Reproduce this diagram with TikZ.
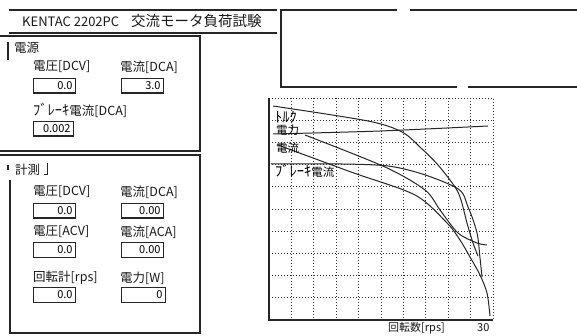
\documentclass[tikz,border=0pt]{standalone}
\usepackage{fontspec}
\setmainfont{Noto Sans CJK JP}
\newcommand{\hwk}[1]{{\fontsize{14.5}{14.5}\selectfont #1}}
\begin{document}
\begin{tikzpicture}[x=1pt,y=-1pt,
  frame/.style={line width=1.3pt,black!85},
  thin/.style={line width=1pt,black!85},
  lbl/.style={font=\fontsize{12.5}{12.5}\selectfont,inner sep=0pt,anchor=west,text=black!90},
  ttl/.style={font=\fontsize{13}{13}\selectfont,inner sep=0pt,anchor=west,text=black!90},
  valbox/.style={draw=black!85,line width=1.1pt,anchor=north west,minimum height=14.5pt,
     text width=36pt,align=right,inner xsep=3pt,inner ysep=0pt,
     font=\fontsize{11}{11}\selectfont},
  grid/.style={line width=0.8pt,black!80,dash pattern=on 1pt off 2pt},
  curve/.style={line width=1pt,black!85},
  glbl/.style={font=\fontsize{11.5}{11.5}\selectfont,inner sep=0pt,anchor=west,text=black}]
\useasboundingbox (0,0) rectangle (577,336);
% title bar
\draw[frame] (9,10) -- (277,10);
\draw[frame] (9,33) -- (277,33);
\node[ttl] (title) at (22,21) {KENTAC 2202PC\hspace{12pt}{\fontsize{14.5}{14.5}\selectfont 交流モータ負荷試験}};
% right top box
\draw[frame] (577,10) -- (410,10);
\draw[frame] (397,10) -- (281,10) -- (281,87) -- (457,87);
\draw[frame] (468,87) -- (577,87);
% power panel
\draw[frame] (0,36) -- (200,36) -- (200,151) -- (0,151);
\draw[frame] (8,42) -- (8,60);
\node[lbl] (pwr) at (14,48) {電源};
\node[lbl] (pv) at (33,67) {電圧[DCV]};
\node[lbl] (pa) at (120,67) {電流[DCA]};
\node[valbox] (pvv) at (33,78) {0.0};
\node[valbox] (pav) at (121,78) {3.0};
\node[lbl] (pb) at (33,110) {\hwk{ﾌﾞﾚｰｷ}電流[DCA]};
\node[valbox,text width=34pt] (pbv) at (33,121) {0.002};
% measurement panel
\draw[frame] (0,155) -- (200,155) -- (200,333) -- (10,333) -- (10,180);
\draw[frame] (8,165) -- (8,170);
\node[lbl] (meas) at (15,170) {計測};
\draw[thin] (47,163) -- (47,175) -- (44,175);
\node[lbl] (mdv) at (33,192) {電圧[DCV]};
\node[lbl] (mda) at (120,192) {電流[DCA]};
\node[valbox] (mdvv) at (33,203) {0.0};
\node[valbox] (mdav) at (121,203) {0.00};
\node[lbl] (mav) at (33,232) {電圧[ACV]};
\node[lbl] (maa) at (120,232) {電流[ACA]};
\node[valbox] (mavv) at (33,242) {0.0};
\node[valbox] (maav) at (121,242) {0.00};
\node[lbl] (mr) at (33,278) {回転計[rps]};
\node[lbl] (mw) at (120,278) {電力[W]};
\node[valbox] (mrv) at (33,287) {0.0};
\node[valbox,text width=38pt] (mwv) at (121,287) {0};
% graph grid
\foreach \i in {1,...,9} {
  \draw[grid] ({269+22.4*\i},98) -- ({269+22.4*\i},320);
  \draw[grid] (269,{98+22.2*\i}) -- (493,{98+22.2*\i});
}
\draw[grid] (269,98) -- (493,98) -- (493,320);
\draw[line width=1.6pt,black!85] (269,98) -- (269,320) -- (493,320);
% curves
\draw[curve] plot[smooth] coordinates {(273,106) (368,121) (402,132) (421,148) (438,165) (455,187) (461,200) (467,223) (473,243) (478,256)};
\draw[curve] plot[smooth] coordinates {(273,134) (380,131) (488,126)};
\draw[curve] plot[smooth] coordinates {(278,145) (351,172) (415,195) (447,223) (460,240) (470,257) (480,275) (487,293) (490,316)};
\draw[curve] plot[smooth] coordinates {(305,135) (385,167) (425,190) (440,210) (458,233) (477,243) (487,245)};
\draw[curve] plot[smooth] coordinates {(271,164) (388,166) (455,187) (468,207) (477,233) (480,258) (482,277)};
% graph labels
\node[glbl] (gt) at (275,117) {\hwk{ﾄﾙｸ}};
\node[glbl] (gp) at (276,130) {電力};
\node[glbl] (gc) at (276,148) {電流};
\node[glbl] (gb) at (275,171) {\hwk{ﾌﾞﾚｰｷ}電流};
\node[lbl,font=\fontsize{11}{11}\selectfont] (xl) at (388,328) {回転数[rps]};
\node[lbl,font=\fontsize{11}{11}\selectfont] (xm) at (477,328) {30};
\end{tikzpicture}
\end{document}
